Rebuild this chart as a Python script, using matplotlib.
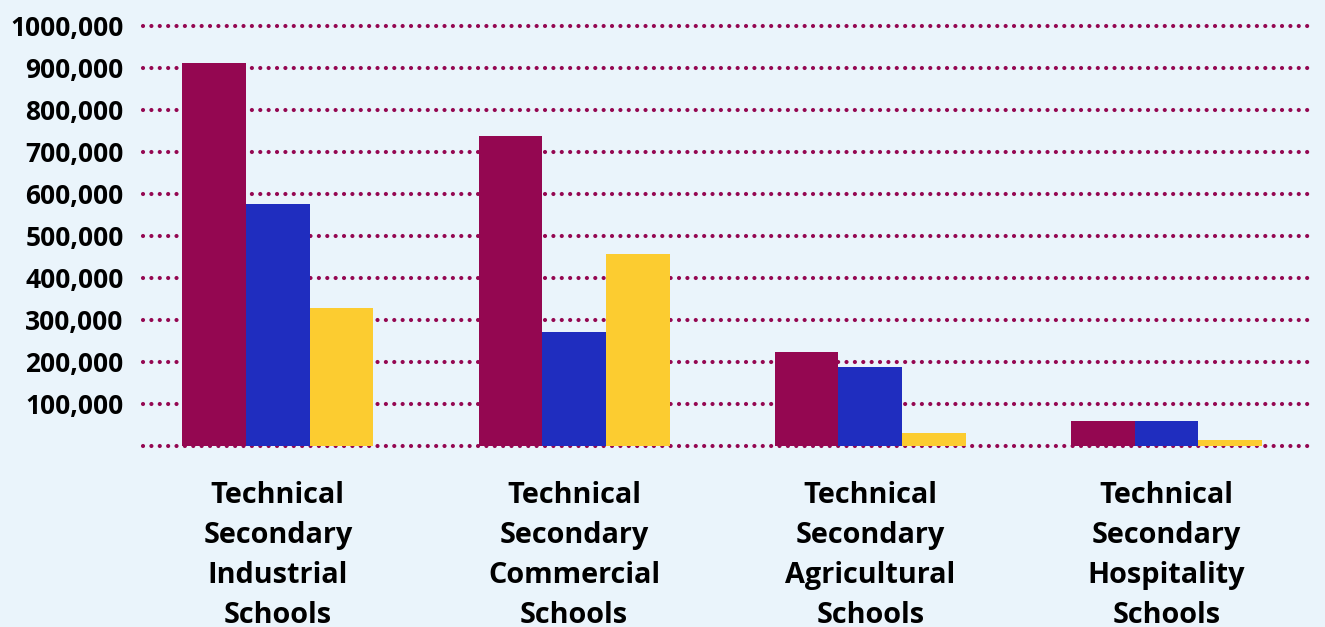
import matplotlib
matplotlib.use("Agg")
import matplotlib.pyplot as plt
import numpy as np

# data
categories = ["Technical\nSecondary\nIndustrial\nSchools",
              "Technical\nSecondary\nCommercial\nSchools",
              "Technical\nSecondary\nAgricultural\nSchools",
              "Technical\nSecondary\nHospitality\nSchools"]
series_a = [912000, 738000, 224000, 60000]
series_b = [576000, 271000, 188000, 60000]
series_c = [329000, 457000, 31000, 14000]
y_ticks = [100000, 200000, 300000, 400000, 500000, 600000, 700000, 800000, 900000, 1000000]
y_tick_labels = ["100,000", "200,000", "300,000", "400,000", "500,000",
                 "600,000", "700,000", "800,000", "900,000", "1000,000"]

bg = "#eaf4fb"
colors = ["#940751", "#1f2dbf", "#fccc30"]
grid_color = "#940751"

plt.rcParams['font.family'] = ['Open Sans', 'DejaVu Sans']

fig = plt.figure(figsize=(13.25, 6.27), dpi=100, facecolor=bg)
ax = fig.add_axes([0.108, 0.2887, 0.8808, 0.6699])
ax.set_facecolor(bg)

x = np.arange(len(categories))
w = 0.215
for i, vals in enumerate([series_a, series_b, series_c]):
    ax.bar(x + (i - 1) * w, vals, width=w, color=colors[i], zorder=3)

# dotted grid lines, including the zero line
for yv in [0] + y_ticks:
    ax.axhline(yv, color=grid_color, lw=3.0, dashes=[0.01, 2.0],
               dash_capstyle='round', zorder=1, clip_on=False)

ax.set_xlim(-0.455, 3.485)
ax.set_ylim(0, 1000000)
ax.set_yticks(y_ticks)
ax.set_yticklabels(y_tick_labels, fontsize=19, fontweight='bold')
ax.set_xticks(x)
ax.set_xticklabels(categories, fontsize=20.8, fontweight='bold', linespacing=1.5)
ax.tick_params(axis='y', length=0, pad=14)
ax.tick_params(axis='x', length=0, pad=25.5)
for s in ax.spines.values():
    s.set_visible(False)

fig.savefig("out.png", dpi=100, facecolor=bg)
